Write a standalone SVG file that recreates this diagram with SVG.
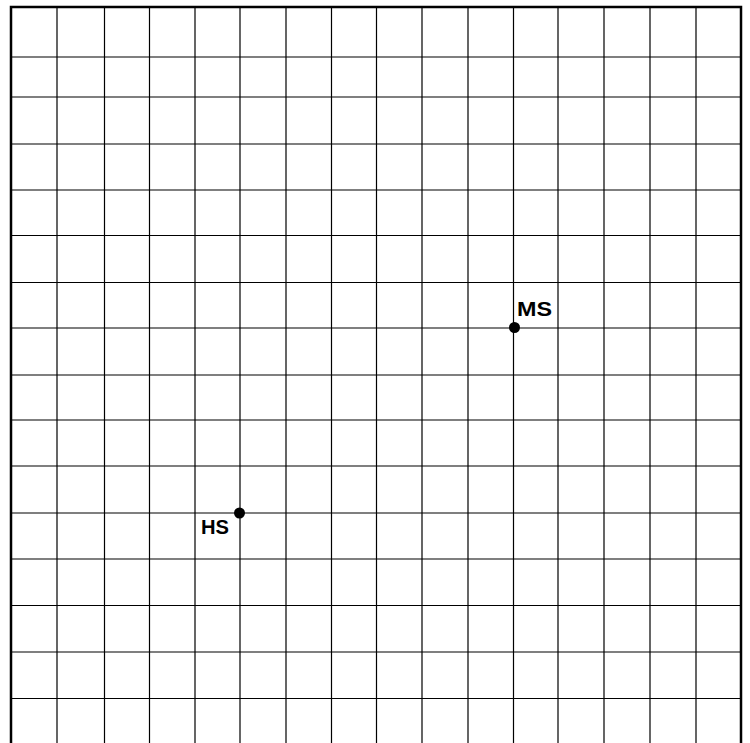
<svg xmlns="http://www.w3.org/2000/svg" width="750" height="743" viewBox="0 0 750 743">
<style>
.g{stroke:#000;stroke-width:1.2;fill:none}
.b{stroke:#000;stroke-width:2.5;fill:none}
.lbl{font-family:"Liberation Sans",Arial,sans-serif;font-weight:bold;font-size:21px;fill:#000}
</style>
<rect width="750" height="743" fill="#fff"/>
<g id="grid">
<path class="g" d="M57 7V743M104.5 7V743M149.5 7V743M195 7V743M240 7V743M286 7V743M331.5 7V743M376.5 7V743M422 7V743M468 7V743M513.5 7V743M558 7V743M604 7V743M650 7V743M696 7V743"/>
<path class="g" d="M11 57H741M11 97H741M11 144H741M11 190H741M11 235.5H741M11 282.5H741M11 328H741M11 375H741M11 420H741M11 466H741M11 513H741M11 559H741M11 605.5H741M11 652H741M11 698.5H741"/>
<path class="b" d="M11 743V7H741V743"/>
</g>
<g id="MS">
<circle cx="514.5" cy="327.5" r="5.5" fill="#000"/>
<text class="lbl" x="517" y="316" textLength="35" lengthAdjust="spacingAndGlyphs">MS</text>
</g>
<g id="HS">
<circle cx="239.5" cy="513" r="5.5" fill="#000"/>
<text class="lbl" x="201" y="534" textLength="28" lengthAdjust="spacingAndGlyphs">HS</text>
</g>
</svg>
